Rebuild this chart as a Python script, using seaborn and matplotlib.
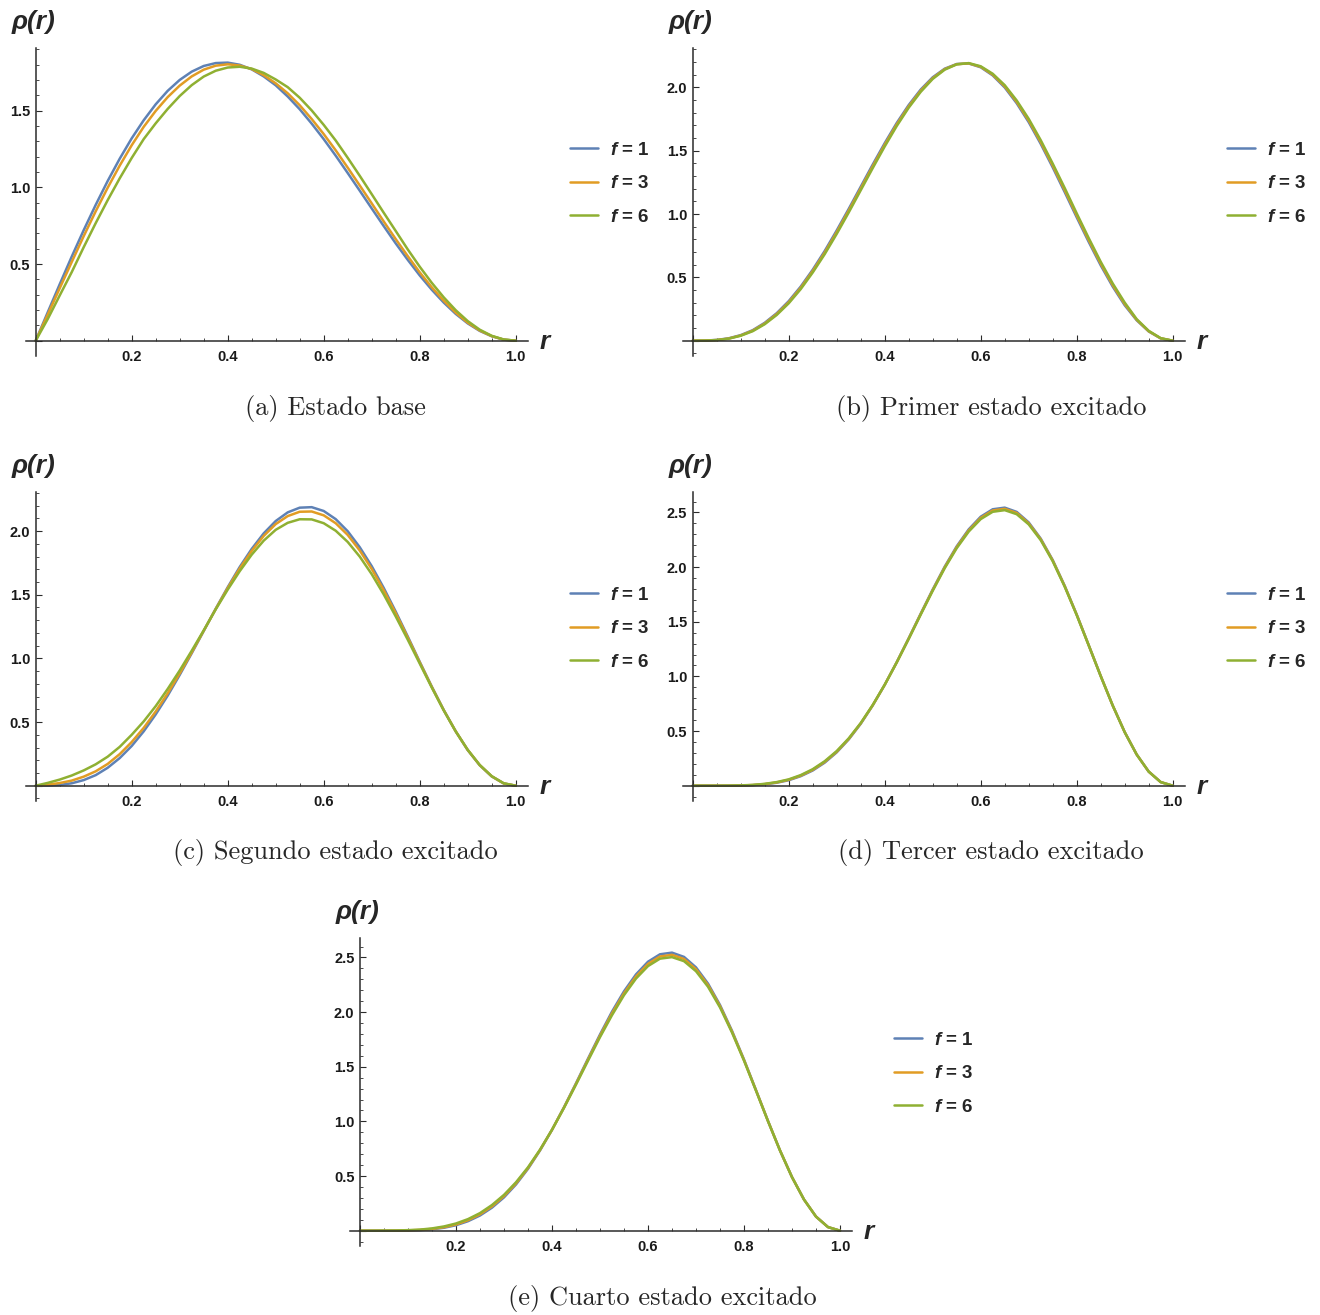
import numpy as np
import pandas as pd
import matplotlib
matplotlib.use("Agg")
import matplotlib.pyplot as plt
from matplotlib.ticker import MultipleLocator, FuncFormatter
import seaborn as sns

# ---------------- data ----------------
r = [0.000, 0.025, 0.050, 0.075, 0.100, 0.125, 0.150, 0.175, 0.200, 0.225,
     0.250, 0.275, 0.300, 0.325, 0.350, 0.375, 0.400, 0.425, 0.450, 0.475,
     0.500, 0.525, 0.550, 0.575, 0.600, 0.625, 0.650, 0.675, 0.700, 0.725,
     0.750, 0.775, 0.800, 0.825, 0.850, 0.875, 0.900, 0.925, 0.950, 0.975, 1.000]

f_labels = ["f = 1", "f = 3", "f = 6"]

# (a) Estado base
a_f1 = [0.000, 0.185, 0.368, 0.548, 0.721, 0.886, 1.042, 1.187, 1.320, 1.438,
        1.542, 1.630, 1.701, 1.755, 1.792, 1.811, 1.814, 1.800, 1.770, 1.724,
        1.666, 1.593, 1.510, 1.416, 1.315, 1.207, 1.094, 0.979, 0.863, 0.748,
        0.635, 0.528, 0.426, 0.333, 0.249, 0.175, 0.113, 0.064, 0.029, 0.007, 0.000]
a_f3 = [0.000, 0.170, 0.342, 0.513, 0.682, 0.844, 0.998, 1.142, 1.275, 1.395,
        1.499, 1.589, 1.664, 1.724, 1.768, 1.794, 1.803, 1.795, 1.772, 1.732,
        1.679, 1.614, 1.536, 1.446, 1.348, 1.242, 1.129, 1.013, 0.896, 0.778,
        0.663, 0.552, 0.446, 0.349, 0.261, 0.183, 0.118, 0.067, 0.030, 0.007, 0.000]
a_f6 = [0.000, 0.141, 0.295, 0.447, 0.610, 0.767, 0.917, 1.059, 1.192, 1.315,
        1.418, 1.512, 1.596, 1.667, 1.723, 1.761, 1.782, 1.787, 1.775, 1.747,
        1.704, 1.654, 1.585, 1.502, 1.408, 1.306, 1.193, 1.076, 0.956, 0.835,
        0.716, 0.596, 0.483, 0.378, 0.283, 0.199, 0.128, 0.072, 0.032, 0.008, 0.000]

# (b) Primer estado excitado
b_f1 = [0.000, 0.001, 0.006, 0.019, 0.044, 0.083, 0.141, 0.217, 0.312, 0.427,
        0.560, 0.708, 0.870, 1.040, 1.215, 1.390, 1.559, 1.718, 1.860, 1.982,
        2.079, 2.147, 2.184, 2.188, 2.158, 2.094, 1.999, 1.874, 1.725, 1.554,
        1.368, 1.173, 0.974, 0.780, 0.595, 0.427, 0.280, 0.161, 0.073, 0.018, 0.000]
b_f3 = [0.000, 0.001, 0.005, 0.017, 0.041, 0.079, 0.135, 0.210, 0.303, 0.417,
        0.549, 0.695, 0.856, 1.026, 1.201, 1.376, 1.546, 1.706, 1.849, 1.973,
        2.072, 2.143, 2.182, 2.189, 2.162, 2.100, 2.008, 1.885, 1.738, 1.568,
        1.383, 1.189, 0.989, 0.795, 0.609, 0.439, 0.290, 0.165, 0.075, 0.019, 0.000]
b_f6 = [0.000, 0.001, 0.005, 0.016, 0.039, 0.075, 0.130, 0.203, 0.295, 0.407,
        0.538, 0.683, 0.843, 1.012, 1.187, 1.362, 1.533, 1.694, 1.839, 1.964,
        2.066, 2.139, 2.181, 2.191, 2.166, 2.107, 2.017, 1.896, 1.751, 1.583,
        1.398, 1.205, 1.005, 0.810, 0.623, 0.452, 0.301, 0.170, 0.078, 0.020, 0.000]

# (c) Segundo estado excitado
c_f1 = [0.000, 0.001, 0.006, 0.019, 0.044, 0.083, 0.141, 0.217, 0.312, 0.427,
        0.560, 0.708, 0.870, 1.040, 1.215, 1.390, 1.559, 1.718, 1.860, 1.982,
        2.079, 2.147, 2.184, 2.188, 2.158, 2.094, 1.999, 1.874, 1.725, 1.554,
        1.368, 1.173, 0.974, 0.780, 0.595, 0.427, 0.280, 0.161, 0.073, 0.018, 0.000]
c_f3 = [0.000, 0.008, 0.021, 0.040, 0.071, 0.113, 0.171, 0.248, 0.343, 0.454,
        0.583, 0.726, 0.882, 1.047, 1.217, 1.388, 1.552, 1.706, 1.844, 1.962,
        2.055, 2.118, 2.152, 2.154, 2.124, 2.062, 1.970, 1.848, 1.703, 1.536,
        1.355, 1.164, 0.969, 0.777, 0.594, 0.427, 0.281, 0.162, 0.074, 0.018, 0.000]
c_f6 = [0.000, 0.022, 0.048, 0.080, 0.120, 0.168, 0.228, 0.305, 0.400, 0.505,
        0.625, 0.760, 0.905, 1.060, 1.220, 1.385, 1.540, 1.685, 1.815, 1.925,
        2.010, 2.065, 2.093, 2.092, 2.062, 2.003, 1.915, 1.800, 1.662, 1.503,
        1.330, 1.148, 0.960, 0.772, 0.592, 0.427, 0.282, 0.163, 0.075, 0.019, 0.000]

# (d) Tercer estado excitado
d_f1 = [0.000, 0.000, 0.000, 0.000, 0.002, 0.005, 0.013, 0.027, 0.050, 0.087,
        0.139, 0.211, 0.305, 0.423, 0.566, 0.734, 0.923, 1.130, 1.349, 1.574,
        1.795, 2.004, 2.190, 2.345, 2.461, 2.529, 2.544, 2.505, 2.409, 2.261,
        2.065, 1.829, 1.566, 1.286, 1.004, 0.734, 0.490, 0.285, 0.129, 0.033, 0.000]
d_f3 = [0.000, 0.000, 0.000, 0.000, 0.002, 0.006, 0.015, 0.030, 0.054, 0.092,
        0.145, 0.218, 0.311, 0.428, 0.570, 0.736, 0.923, 1.128, 1.346, 1.570,
        1.789, 1.997, 2.182, 2.335, 2.450, 2.518, 2.533, 2.495, 2.400, 2.254,
        2.060, 1.825, 1.564, 1.285, 1.004, 0.734, 0.490, 0.285, 0.129, 0.033, 0.000]
d_f6 = [0.000, 0.000, 0.000, 0.001, 0.003, 0.007, 0.017, 0.033, 0.058, 0.097,
        0.151, 0.224, 0.317, 0.433, 0.573, 0.738, 0.923, 1.127, 1.343, 1.565,
        1.783, 1.990, 2.173, 2.325, 2.439, 2.506, 2.521, 2.484, 2.391, 2.247,
        2.054, 1.821, 1.561, 1.284, 1.003, 0.734, 0.490, 0.285, 0.129, 0.033, 0.000]

# (e) Cuarto estado excitado
e_f1 = [0.000, 0.000, 0.000, 0.000, 0.002, 0.005, 0.013, 0.027, 0.050, 0.087,
        0.139, 0.211, 0.305, 0.423, 0.566, 0.734, 0.923, 1.130, 1.349, 1.574,
        1.795, 2.004, 2.190, 2.345, 2.461, 2.529, 2.544, 2.505, 2.409, 2.261,
        2.065, 1.829, 1.566, 1.286, 1.004, 0.734, 0.490, 0.285, 0.129, 0.033, 0.000]
e_f3 = [0.000, 0.000, 0.000, 0.001, 0.003, 0.007, 0.016, 0.032, 0.057, 0.096,
        0.150, 0.223, 0.317, 0.433, 0.573, 0.738, 0.923, 1.127, 1.343, 1.565,
        1.783, 1.988, 2.172, 2.326, 2.441, 2.509, 2.524, 2.486, 2.392, 2.247,
        2.054, 1.821, 1.561, 1.284, 1.003, 0.734, 0.490, 0.285, 0.129, 0.033, 0.000]
e_f6 = [0.000, 0.000, 0.001, 0.002, 0.005, 0.010, 0.021, 0.039, 0.066, 0.106,
        0.161, 0.235, 0.328, 0.443, 0.580, 0.741, 0.923, 1.124, 1.337, 1.555,
        1.771, 1.972, 2.155, 2.307, 2.421, 2.489, 2.503, 2.466, 2.374, 2.232,
        2.043, 1.813, 1.556, 1.281, 1.002, 0.734, 0.490, 0.285, 0.129, 0.033, 0.000]

captions = ["(a) Estado base", "(b) Primer estado excitado",
            "(c) Segundo estado excitado", "(d) Tercer estado excitado",
            "(e) Cuarto estado excitado"]

# ---------------- style ----------------
sns.set_style("white")
plt.rcParams["font.family"] = ["Liberation Sans", "DejaVu Sans"]
plt.rcParams["mathtext.fontset"] = "custom"
plt.rcParams["mathtext.rm"] = "Liberation Sans:bold"
plt.rcParams["mathtext.bfit"] = "Liberation Sans:bold:italic"
plt.rcParams["mathtext.it"] = "Liberation Sans:bold:italic"
plt.rcParams["lines.solid_joinstyle"] = "round"

palette = ["#5E81B5", "#E19C24", "#8FB032"]
AX_COL = "#2b2b2b"

W, H = 1320, 1315
fig = plt.figure(figsize=(W / 100, H / 100), dpi=100)

# panel layout: origin pixel (x, y), y-scale px per unit, top of y-axis px
panels = [
    dict(series=(a_f1, a_f3, a_f6), ox=35.7, oy=340.7, ys=153.3, top=48.3,
         cap=(335, 408)),
    dict(series=(b_f1, b_f3, b_f6), ox=692.7, oy=340.7, ys=126.7, top=48.3,
         cap=(991, 408)),
    dict(series=(c_f1, c_f3, c_f6), ox=35.7, oy=785.7, ys=127.3, top=492.3,
         cap=(335, 853)),
    dict(series=(d_f1, d_f3, d_f6), ox=692.7, oy=785.7, ys=109.3, top=492.3,
         cap=(991, 853)),
    dict(series=(e_f1, e_f3, e_f6), ox=360.0, oy=1230.7, ys=109.3, top=938.3,
         cap=(662, 1298)),
]
XS = 480.0
LEFT_OVER, RIGHT_OVER, BOT_OVER = 10, 12, 15

def fmt(v, pos):
    if abs(v) < 1e-9:
        return ""
    return f"{v:.1f}"

for p, cap in zip(panels, captions):
    ox, oy, ys, top = p["ox"], p["oy"], p["ys"], p["top"]
    left_px = ox - LEFT_OVER
    width_px = XS + LEFT_OVER + RIGHT_OVER
    bottom_px = oy + BOT_OVER
    height_px = bottom_px - top
    ax = fig.add_axes([left_px / W, 1 - bottom_px / H, width_px / W, height_px / H])

    frames = []
    for lab, vals in zip(f_labels, p["series"]):
        frames.append(pd.DataFrame({"r": r, "rho": vals, "f": lab}))
    df = pd.concat(frames, ignore_index=True)
    sns.lineplot(data=df, x="r", y="rho", hue="f", hue_order=f_labels,
                 palette=palette, linewidth=1.8, ax=ax, legend=True,
                 estimator=None, sort=False)

    ax.set_xlim(-LEFT_OVER / XS, 1 + RIGHT_OVER / XS)
    ax.set_ylim(-BOT_OVER / ys, (oy - top) / ys)
    ax.set_xlabel("")
    ax.set_ylabel("")
    ax.set_facecolor("none")

    for s in ("top", "right"):
        ax.spines[s].set_visible(False)
    for s in ("left", "bottom"):
        ax.spines[s].set_position(("data", 0))
        ax.spines[s].set_color(AX_COL)
        ax.spines[s].set_linewidth(1.1)

    ax.xaxis.set_major_locator(MultipleLocator(0.2))
    ax.xaxis.set_minor_locator(MultipleLocator(0.05))
    ax.yaxis.set_major_locator(MultipleLocator(0.5))
    ax.yaxis.set_minor_locator(MultipleLocator(0.1))
    ax.xaxis.set_major_formatter(FuncFormatter(fmt))
    ax.yaxis.set_major_formatter(FuncFormatter(fmt))
    ax.tick_params(axis="both", which="both", bottom=True, left=True,
                   top=False, right=False)
    ax.tick_params(axis="both", which="major", direction="in", length=4.0,
                   width=0.8, color=AX_COL, labelsize=10.5, labelcolor="#1a1a1a")
    ax.tick_params(axis="both", which="minor", direction="in", length=2.3,
                   width=0.6, color=AX_COL)
    ax.tick_params(axis="x", which="major", pad=6.5)
    ax.tick_params(axis="y", which="major", pad=4)
    for t in ax.get_xticklabels() + ax.get_yticklabels():
        t.set_fontweight("bold")
    ax.grid(False)

    # legend
    handles, labels = ax.get_legend_handles_labels()
    leg_labels = [r"$\mathbfit{f}$ = " + l.split("= ")[1] for l in labels]
    leg = ax.legend(handles, leg_labels, loc="center left",
                    bbox_to_anchor=((ox + 534) / W, 1 - (oy - 157) / H),
                    bbox_transform=fig.transFigure, frameon=False,
                    fontsize=13.5, handlelength=1.5, handletextpad=0.65,
                    labelspacing=0.88, borderpad=0, borderaxespad=0)
    for t in leg.get_texts():
        t.set_fontweight("bold")
    for h in leg.get_lines():
        h.set_linewidth(1.8)

    # axis labels (Mathematica style)
    fig.text((ox - 24) / W, 1 - (top - 26) / H, "ρ(r)", ha="left", va="center",
             fontsize=19, fontweight="bold", fontstyle="italic")
    fig.text((ox + 509) / W, 1 - (oy + 1) / H, "r", ha="center", va="center",
             fontsize=19, fontweight="bold", fontstyle="italic")

    # caption
    fig.text(p["cap"][0] / W, 1 - p["cap"][1] / H, cap, ha="center",
             va="center", fontsize=19, family="cmr10")

fig.savefig("out.png", dpi=100)
